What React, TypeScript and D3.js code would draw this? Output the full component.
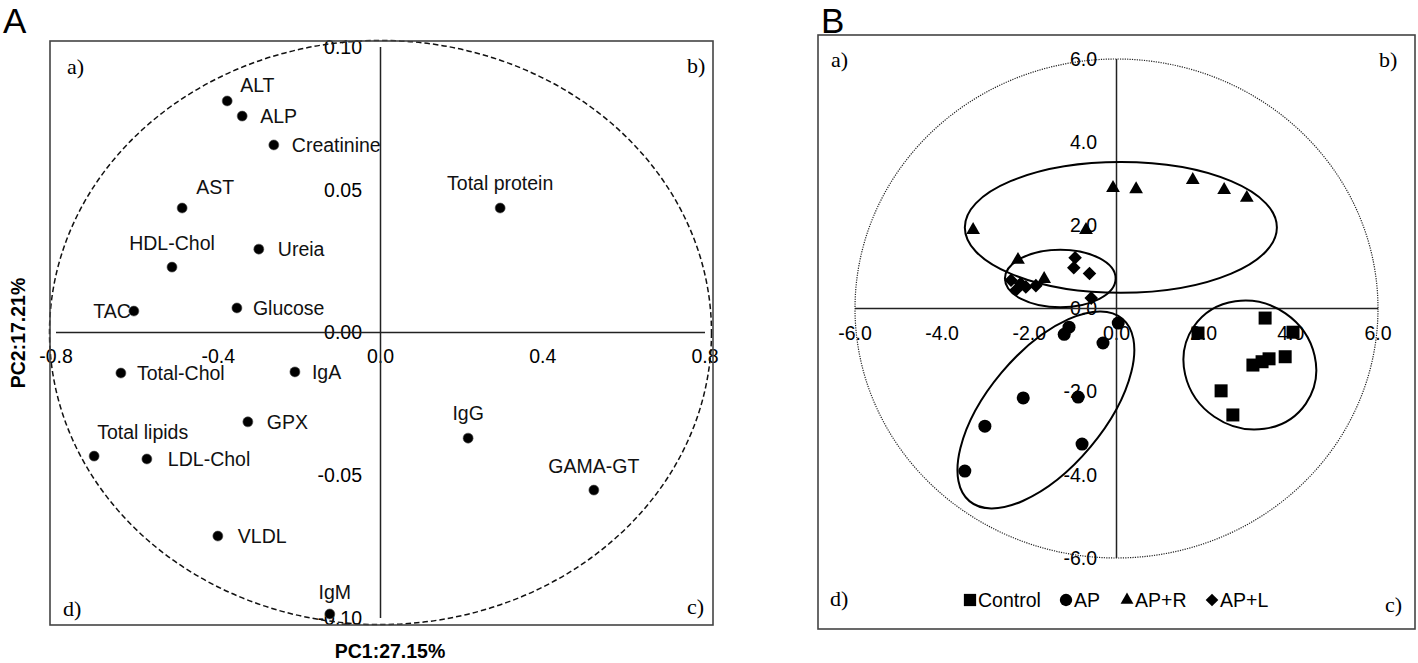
import React from "react";
import * as d3 from "d3";

// ---------- Panel A: variable loadings ----------
const variables = ["ALT", "ALP", "Creatinine", "AST", "HDL-Chol", "Ureia", "TAC", "Glucose", "Total protein", "Total-Chol", "IgA", "GPX", "Total lipids", "LDL-Chol", "VLDL", "IgM", "IgG", "GAMA-GT"];
const pc1Loadings = [-0.378, -0.341, -0.263, -0.489, -0.514, -0.300, -0.608, -0.354, 0.295, -0.640, -0.211, -0.327, -0.706, -0.576, -0.401, -0.125, 0.216, 0.526];
const pc2Loadings = [0.0811, 0.0758, 0.0657, 0.0436, 0.0229, 0.0292, 0.0075, 0.0086, 0.0436, -0.0142, -0.0138, -0.0313, -0.0433, -0.0443, -0.0713, -0.0986, -0.0370, -0.0552];
const ticksAx = [-0.8, -0.4, 0.0, 0.4, 0.8];
const ticksAy = [0.1, 0.05, 0.0, -0.05, -0.1];
const circleA = [0.816, 0.1023];

// ---------- Panel B: scores ----------
const controlPC1 = [3.41, 1.87, 4.05, 3.87, 3.50, 3.34, 3.13, 2.40, 2.67];
const controlPC2 = [-0.23, -0.59, -0.57, -1.16, -1.21, -1.28, -1.36, -1.98, -2.56];
const apPC1 = [0.04, -1.09, -1.20, -0.31, -2.14, -0.88, -3.02, -0.79, -3.48];
const apPC2 = [-0.35, -0.45, -0.62, -0.83, -2.15, -2.13, -2.83, -3.26, -3.91];
const aprPC1 = [-3.29, -0.70, -2.26, -1.66, -0.08, 0.45, 1.75, 2.47, 2.99];
const aprPC2 = [1.89, 1.89, 1.17, 0.71, 2.90, 2.87, 3.09, 2.85, 2.66];
const aplPC1 = [-2.42, -2.30, -2.08, -1.85, -2.20, -0.95, -0.98, -0.62, -0.58];
const aplPC2 = [0.68, 0.45, 0.52, 0.55, 0.60, 1.22, 0.98, 0.84, 0.25];
const groupNames = ["Control", "AP", "AP+R", "AP+L"];
const ticksB = [-6, -4, -2, 0, 2, 4, 6];
// group ellipses: centre x, centre y, semi-axis a, semi-axis b (PC units), rotation (deg)
const ellipseCx = [3.06, -1.62, 0.10, -1.29];
const ellipseCy = [-1.36, -2.44, 1.95, 0.72];
const ellipseA = [1.56, 2.73, 3.58, 1.27];
const ellipseB = [1.44, 1.33, 1.50, 0.66];
const ellipseRot = [34.5, -50, 0, 0];

// label placement (layout only)
const labelPlace: Record<string, [number, number, string]> = {
  "ALT": [13, -16, "start"],
  "ALP": [18, 0, "start"],
  "Creatinine": [18, 0, "start"],
  "AST": [14, -21, "start"],
  "HDL-Chol": [0, -24, "middle"],
  "Ureia": [19, 0, "start"],
  "TAC": [-3, 0, "end"],
  "Glucose": [16, 0, "start"],
  "Total protein": [0, -25, "middle"],
  "Total-Chol": [16, 0, "start"],
  "IgA": [17, 0, "start"],
  "GPX": [19, 0, "start"],
  "Total lipids": [3, -24, "start"],
  "LDL-Chol": [21, 0, "start"],
  "VLDL": [20, 0, "start"],
  "IgM": [5, -22, "middle"],
  "IgG": [0, -25, "middle"],
  "GAMA-GT": [0, -24, "middle"],
};

const SANS = "'Liberation Sans', Arial, sans-serif";
const SERIF = "'Liberation Serif', 'Times New Roman', serif";
const FS = 19.5;
const fmt = (spec: string) => (v: number) => d3.format(spec)(v).replace("\u2212", "-");

export default function App() {
  // Panel A scales
  const xA = d3.scaleLinear().domain([-0.8, 0.8]).range([56, 705]);
  const yA = d3.scaleLinear().domain([-0.1, 0.1]).range([618, 47]);
  // Panel B scales
  const xB = d3.scaleLinear().domain([-6, 6]).range([855, 1378]);
  const yB = d3.scaleLinear().domain([-6, 6]).range([558, 59]);
  const unitB = xB(1) - xB(0);
  const f1 = fmt(".1f");
  const f2 = fmt(".2f");

  const groups = [
    { xs: controlPC1, ys: controlPC2, sym: d3.symbolSquare, size: 169, rot: 0 },
    { xs: apPC1, ys: apPC2, sym: d3.symbolCircle, size: 133, rot: 0 },
    { xs: aprPC1, ys: aprPC2, sym: d3.symbolTriangle, size: 82, rot: 0 },
    { xs: aplPC1, ys: aplPC2, sym: d3.symbolSquare, size: 92, rot: 45 },
  ];
  const legendX = [970, 1066, 1127, 1212];
  const legendSize = [150, 120, 72, 80];

  const axisCol = "#222";
  const frameCol = "#444";

  return (
    <svg width={1418} height={663} style={{ position: "absolute", left: 0, top: 0, background: "#fff" }}>
      {/* Panel letters */}
      <text x={3} y={33} fontFamily={SANS} fontSize={35}>A</text>
      <text x={821} y={33} fontFamily={SANS} fontSize={35}>B</text>

      {/* ===== Panel A ===== */}
      <g>
        {ticksAx.map((t) => (
          <text key={"ax" + t} x={xA(t)} y={356} dy="0.35em" textAnchor="middle" fontFamily={SANS} fontSize={FS}>
            {f1(t)}
          </text>
        ))}
        {ticksAy.map((t) => (
          <text key={"ay" + t} x={362} y={yA(t)} dy="0.35em" textAnchor="end" fontFamily={SANS} fontSize={FS}>
            {f2(t)}
          </text>
        ))}
        <line x1={xA(-0.8)} x2={xA(0.8)} y1={yA(0)} y2={yA(0)} stroke={axisCol} strokeWidth={1.5} />
        <line x1={xA(0)} x2={xA(0)} y1={yA(0.1)} y2={yA(-0.1)} stroke={axisCol} strokeWidth={1.5} />
        <ellipse
          cx={xA(0)} cy={yA(0)}
          rx={xA(circleA[0]) - xA(0)} ry={yA(0) - yA(circleA[1])}
          fill="none" stroke="#111" strokeWidth={1.5} strokeDasharray="5.5,3"
        />
        <rect x={50} y={41} width={663} height={584} fill="none" stroke={frameCol} strokeWidth={1.6} />
        {variables.map((v, i) => {
          const px = xA(pc1Loadings[i]);
          const py = yA(pc2Loadings[i]);
          const [dx, dy, anchor] = labelPlace[v];
          return (
            <g key={v}>
              <circle cx={px} cy={py} r={5} fill="#000" stroke="#555" strokeWidth={0.6} />
              <text x={px + dx} y={py + dy} dy="0.35em" textAnchor={anchor} fontFamily={SANS} fontSize={FS} fill="#111">
                {v}
              </text>
            </g>
          );
        })}
        <text x={67} y={74} fontFamily={SERIF} fontSize={22}>a)</text>
        <text x={687} y={73} fontFamily={SERIF} fontSize={22}>b)</text>
        <text x={687} y={614} fontFamily={SERIF} fontSize={22}>c)</text>
        <text x={63} y={616} fontFamily={SERIF} fontSize={22}>d)</text>
        <text x={390} y={658} textAnchor="middle" fontFamily={SANS} fontSize={FS} fontWeight="bold">PC1:27.15%</text>
        <text transform="translate(25,333) rotate(-90)" textAnchor="middle" fontFamily={SANS} fontSize={FS} fontWeight="bold">PC2:17.21%</text>
      </g>

      {/* ===== Panel B ===== */}
      <g>
        <rect x={818} y={35} width={597} height={594} fill="none" stroke={frameCol} strokeWidth={1.6} />
        {ticksB.map((t) => (
          <text key={"bx" + t} x={xB(t)} y={333} dy="0.35em" textAnchor="middle" fontFamily={SANS} fontSize={FS}>
            {f1(t)}
          </text>
        ))}
        {ticksB.map((t) => (
          <text key={"by" + t} x={1097} y={yB(t)} dy="0.35em" textAnchor="end" fontFamily={SANS} fontSize={FS}>
            {f1(t)}
          </text>
        ))}
        <ellipse
          cx={xB(0)} cy={yB(0)} rx={xB(6) - xB(0)} ry={yB(0) - yB(6)}
          fill="none" stroke="#222" strokeWidth={1.2} strokeDasharray="1.2,1.2"
        />
        <line x1={xB(-6)} x2={xB(6)} y1={yB(0)} y2={yB(0)} stroke={axisCol} strokeWidth={1.5} />
        <line x1={xB(0)} x2={xB(0)} y1={yB(6)} y2={yB(-6)} stroke={axisCol} strokeWidth={1.5} />
        {ellipseCx.map((cx, i) => (
          <ellipse
            key={"el" + i}
            transform={`translate(${xB(cx)},${yB(ellipseCy[i])}) rotate(${ellipseRot[i]})`}
            rx={ellipseA[i] * unitB} ry={ellipseB[i] * unitB}
            fill="none" stroke="#000" strokeWidth={2}
          />
        ))}
        {groups.map((g, gi) =>
          g.xs.map((x, i) => (
            <path
              key={"p" + gi + "-" + i}
              transform={`translate(${xB(x)},${yB(g.ys[i])}) rotate(${g.rot})`}
              d={d3.symbol().type(g.sym).size(g.size)() || ""}
              fill="#000"
            />
          ))
        )}
        {groupNames.map((n, i) => (
          <g key={"lg" + n}>
            <path
              transform={`translate(${legendX[i]},${600}) rotate(${groups[i].rot})`}
              d={d3.symbol().type(groups[i].sym).size(legendSize[i])() || ""}
              fill="#000"
            />
            <text x={legendX[i] + 8} y={600} dy="0.35em" fontFamily={SANS} fontSize={FS}>{n}</text>
          </g>
        ))}
        <text x={831} y={67} fontFamily={SERIF} fontSize={22}>a)</text>
        <text x={1379} y={67} fontFamily={SERIF} fontSize={22}>b)</text>
        <text x={1385} y={612} fontFamily={SERIF} fontSize={22}>c)</text>
        <text x={830} y={606} fontFamily={SERIF} fontSize={22}>d)</text>
      </g>
    </svg>
  );
}
